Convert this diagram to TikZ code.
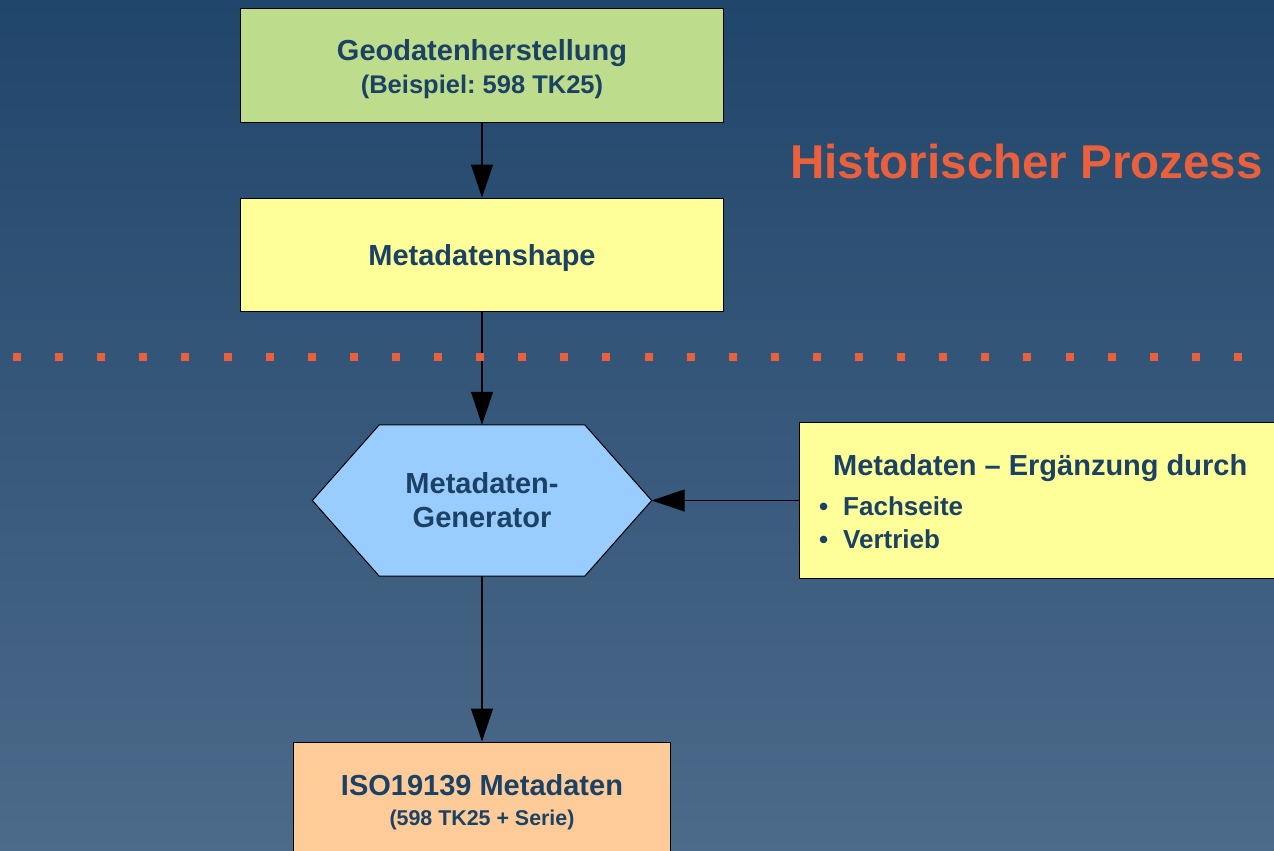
\documentclass[tikz,border=0pt]{standalone}
\usepackage{fontspec}
\setmainfont{Liberation Sans}
\usetikzlibrary{arrows.meta}
\frenchspacing
\definecolor{bgtop}{RGB}{33,70,107}
\definecolor{bgbot}{RGB}{76,106,138}
\definecolor{navy}{RGB}{27,65,101}
\definecolor{geofill}{RGB}{189,220,140}
\definecolor{yelfill}{RGB}{255,255,153}
\definecolor{hexfill}{RGB}{153,204,255}
\definecolor{peachfill}{RGB}{255,204,153}
\definecolor{accent}{RGB}{234,96,60}
\begin{document}
\frenchspacing
\begin{tikzpicture}[x=1pt,y=-1pt,
  box/.style={draw=black, line width=1pt, inner sep=0pt, rectangle},
  lbl/.style={text=navy, font=\frenchspacing\bfseries\fontsize{29}{34}\selectfont, inner sep=0pt, anchor=base},
  sublbl/.style={text=navy, font=\frenchspacing\bfseries\fontsize{25.5}{30}\selectfont, inner sep=0pt, anchor=base},
  smalllbl/.style={text=navy, font=\frenchspacing\bfseries\fontsize{21.4}{26}\selectfont, inner sep=0pt, anchor=base},
  itemlbl/.style={text=navy, font=\bfseries\fontsize{26}{30}\selectfont, inner sep=0pt, anchor=base west},
  conn/.style={draw=black, line width=1.2pt, -{Triangle[length=33pt,width=22pt]}}]
\useasboundingbox (0,0) rectangle (1274,851);
\clip (0,0) rectangle (1274,851);
\fill[top color=bgtop, bottom color=bgbot] (0,0) rectangle (1274,851);

% boxes
\node[box, fill=geofill, minimum width=483pt, minimum height=113pt] (geo) at (482,65.5) {};
\node[box, fill=yelfill, minimum width=483pt, minimum height=113pt] (shape) at (482,254.5) {};
\node[inner sep=0pt, minimum width=339pt, minimum height=151pt] (hex) at (482,500.5) {};
\draw[fill=hexfill, line width=1pt] (hex.west) -- ([xshift=67pt]hex.north west) -- ([xshift=-67pt]hex.north east) -- (hex.east) -- ([xshift=-67pt]hex.south east) -- ([xshift=67pt]hex.south west) -- cycle;
\node[box, fill=yelfill, minimum width=491pt, minimum height=156pt] (extra) at (1044.5,500.5) {};
\node[box, fill=peachfill, minimum width=377pt, minimum height=138pt] (iso) at (482,811) {};

% connectors
\draw[conn] (geo.south) -- (shape.north);
\draw[conn] (shape.south) -- (hex.north);
\draw[conn] (hex.south) -- (iso.north);
\draw[conn] (extra.west) -- (hex.east);

% dotted separator
\foreach \k in {0,...,29} \fill[accent] ({13+42.1*\k},353) rectangle ++(8,8);

% texts
\node[lbl] (geoA) at (482,61) {Geodatenherstellung};
\node[sublbl] (geoB) at (482,93) {(Beispiel: 598 TK25)};
\node[lbl] (shapeT) at (482,265) {Metadatenshape};
\node[lbl] (hexA) at (482,493) {Metadaten-};
\node[lbl] (hexB) at (482,527) {Generator};
\node[lbl, anchor=base west] (extraT) at (833,475) {Metadaten – Ergänzung durch};
\node[itemlbl] (bulA) at (819,515) {•};
\node[itemlbl] (itemA) at (843,515) {Fachseite};
\node[itemlbl] (bulB) at (819,548) {•};
\node[itemlbl] (itemB) at (843,548) {Vertrieb};
\node[lbl] (isoA) at (482,795) {ISO19139 Metadaten};
\node[smalllbl] (isoB) at (482,825) {(598 TK25 + Serie)};
\node[text=accent, font=\bfseries\fontsize{47.5}{55}\selectfont, inner sep=0pt, anchor=base west] (title) at (790,178) {Historischer Prozess};
\end{tikzpicture}
\end{document}
